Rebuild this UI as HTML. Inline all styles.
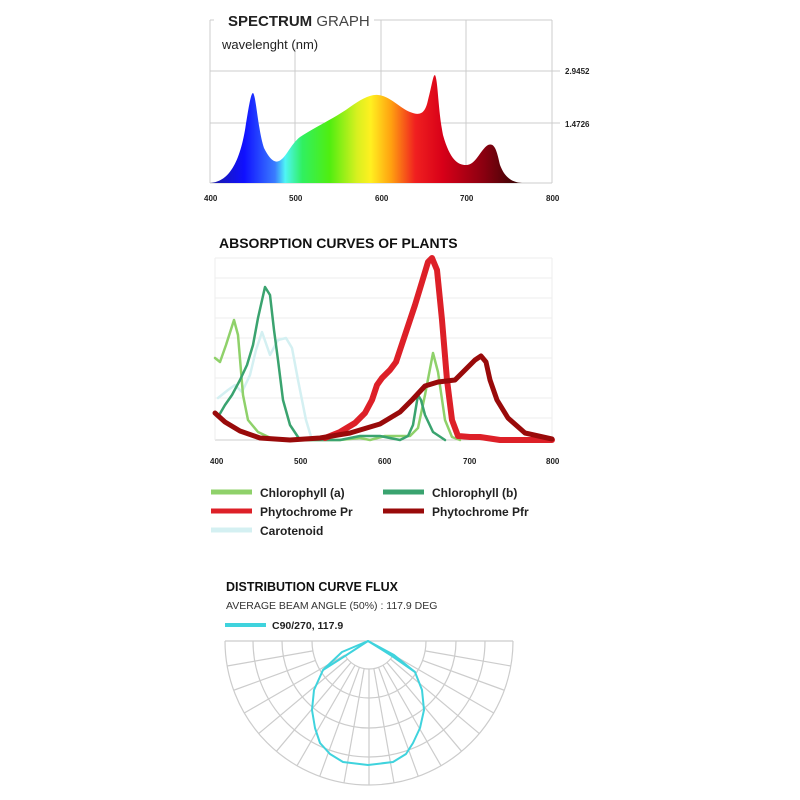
<!DOCTYPE html>
<html><head><meta charset="utf-8"><style>
html,body{margin:0;padding:0;background:#fff;}
svg{display:block;}
text{font-family:"Liberation Sans","DejaVu Sans",sans-serif;}
</style></head><body>
<svg width="800" height="800" viewBox="0 0 800 800" xmlns="http://www.w3.org/2000/svg">
<defs>
<linearGradient id="spec" x1="210" x2="552" y1="0" y2="0" gradientUnits="userSpaceOnUse">
<stop offset="0" stop-color="#1a1aa0"/>
<stop offset="0.1" stop-color="#1010ff"/>
<stop offset="0.19" stop-color="#3a7cff"/>
<stop offset="0.22" stop-color="#4ff5f5"/>
<stop offset="0.27" stop-color="#30f060"/>
<stop offset="0.35" stop-color="#50ee10"/>
<stop offset="0.43" stop-color="#d8f020"/>
<stop offset="0.47" stop-color="#fff020"/>
<stop offset="0.53" stop-color="#ffa010"/>
<stop offset="0.6" stop-color="#f02020"/>
<stop offset="0.68" stop-color="#d80018"/>
<stop offset="0.8" stop-color="#8a0010"/>
<stop offset="0.9" stop-color="#3a0505"/>
<stop offset="1" stop-color="#000"/>
</linearGradient>
</defs>
<g stroke="#ccc" stroke-width="1" fill="none">
<line x1="210" y1="20" x2="552" y2="20"/>
<line x1="210" y1="20" x2="210" y2="183"/>
<line x1="295" y1="32" x2="295" y2="183"/>
<line x1="381" y1="20" x2="381" y2="183"/>
<line x1="466" y1="20" x2="466" y2="183"/>
<line x1="552" y1="20" x2="552" y2="183"/>
<line x1="210" y1="71" x2="560" y2="71"/>
<line x1="210" y1="123" x2="560" y2="123"/>
<line x1="210" y1="183" x2="552" y2="183"/>
</g>
<rect x="214" y="8" width="160" height="40" fill="#fff"/>
<path d="M210,183 C225,182 238,170 245,130 C249,105 251,93 253,93 C256,95 258,130 264,148 C270,160 275,163 279,161 C286,158 290,145 300,137 C315,127 335,118 350,107 C360,100 370,94 378,95 C390,96 400,108 410,112 C420,116 425,114 428,100 C432,85 433,75 435,75 C438,80 438,110 443,135 C450,160 458,165 466,165 C476,165 480,150 488,145 C495,142 497,152 500,165 C505,178 512,182 522,183 Z" fill="url(#spec)"/>
<text x="228" y="26" font-size="15" font-weight="bold" fill="#222">SPECTRUM <tspan font-weight="normal" fill="#444">GRAPH</tspan></text>
<text x="222" y="49" font-size="13" fill="#222">wavelenght (nm)</text>
<g font-size="8" fill="#222" font-weight="bold">
<text x="565" y="74">2.9452</text><text x="565" y="127">1.4726</text>
<text x="204" y="201">400</text><text x="289" y="201">500</text><text x="375" y="201">600</text><text x="460" y="201">700</text><text x="546" y="201">800</text>
</g>
<text x="219" y="248" font-size="14" font-weight="bold" fill="#111">ABSORPTION CURVES OF PLANTS</text>
<g stroke="#eee" stroke-width="1">
<line x1="215" y1="258" x2="552" y2="258"/><line x1="215" y1="278" x2="552" y2="278"/><line x1="215" y1="298" x2="552" y2="298"/><line x1="215" y1="318" x2="552" y2="318"/><line x1="215" y1="338" x2="552" y2="338"/><line x1="215" y1="358" x2="552" y2="358"/><line x1="215" y1="378" x2="552" y2="378"/><line x1="215" y1="398" x2="552" y2="398"/><line x1="215" y1="418" x2="552" y2="418"/>
<line x1="552" y1="258" x2="552" y2="440"/>
</g>
<line x1="215" y1="440" x2="552" y2="440" stroke="#ccc"/>
<line x1="215" y1="258" x2="215" y2="440" stroke="#eee"/>
<g fill="none" stroke-linejoin="round" stroke-linecap="round">
<polyline stroke="#d4f0f2" stroke-width="2.5" points="218,398 228,390 235,385 242,392 250,375 256,350 262,332 270,355 278,340 286,338 292,348 298,380 306,420 312,440"/>
<polyline stroke="#8fd16a" stroke-width="2.5" points="215,358 220,362 226,345 234,320 238,335 243,395 248,420 258,432 275,440 300,440 340,440 360,438 370,440 385,436 410,436 418,428 425,395 433,353 438,372 445,420 452,437 460,440"/>
<polyline stroke="#3aa36f" stroke-width="2.5" points="218,417 225,405 232,395 240,380 247,365 253,345 258,318 265,287 270,295 274,330 278,360 283,400 290,425 300,440 340,440 360,436 380,436 400,440 408,436 413,425 418,395 421,400 425,415 433,432 445,440"/>
<polyline stroke="#dd2028" stroke-width="6" points="325,438 340,432 355,423 365,413 372,400 377,385 382,378 390,370 396,362 405,335 415,305 422,282 428,262 432,258 437,270 442,320 447,380 452,420 458,436 470,437 480,437 500,440 552,440"/>
<polyline stroke="#990a0a" stroke-width="5" points="215,413 225,422 240,431 260,438 290,440 320,438 350,433 380,424 400,412 412,400 425,386 438,382 455,380 465,370 475,360 481,356 486,362 490,380 497,400 508,418 525,433 552,439"/>
</g>
<g font-size="8" fill="#222" font-weight="bold">
<text x="210" y="464">400</text><text x="294" y="464">500</text><text x="378" y="464">600</text><text x="463" y="464">700</text><text x="546" y="464">800</text>
</g>
<g stroke-width="5">
<line x1="211" y1="492" x2="252" y2="492" stroke="#8fd16a"/>
<line x1="383" y1="492" x2="424" y2="492" stroke="#3aa36f"/>
<line x1="211" y1="511" x2="252" y2="511" stroke="#dd2028"/>
<line x1="383" y1="511" x2="424" y2="511" stroke="#990a0a"/>
<line x1="211" y1="530" x2="252" y2="530" stroke="#d4f0f2"/>
</g>
<g font-size="12" font-weight="bold" fill="#222">
<text x="260" y="497">Chlorophyll (a)</text><text x="432" y="497">Chlorophyll (b)</text>
<text x="260" y="516">Phytochrome Pr</text><text x="432" y="516">Phytochrome Pfr</text>
<text x="260" y="535">Carotenoid</text>
</g>
<text x="226" y="591" font-size="12.5" font-weight="bold" fill="#111">DISTRIBUTION CURVE FLUX</text>
<text x="226" y="609" font-size="10.5" fill="#333">AVERAGE BEAM ANGLE  (50%) : 117.9 DEG</text>
<line x1="225" y1="625" x2="266" y2="625" stroke="#3fd3dd" stroke-width="4"/>
<text x="272" y="629" font-size="10.5" font-weight="bold" fill="#222">C90/270, 117.9</text>
<g stroke="#ccc" stroke-width="1.2" fill="none" id="polar"></g>
<g fill="none" stroke="#3fd3dd" stroke-width="2" stroke-linejoin="round">
<polygon points="368,641 345,656 323,670 314,690 312,710 315,728 320,743 330,754 343,762 368,765 393,762 406,754 413,743 420,728 424,710 422,690 415,672 392,656"/>
<polyline points="323,670 342,652 368,641 394,655 415,672"/>
</g>
</svg>
<script>
(function(){
var g=document.getElementById('polar'),cx=369,cy=641,rs=[57,87,116,144],h='';
rs.forEach(function(r){h+='<path d="M'+(cx-r)+','+cy+' A'+r+','+r+' 0 0 0 '+(cx+r)+','+cy+'"/>';});
var ri=28,a0=30*Math.PI/180;
h+='<path d="M'+(cx-ri*Math.cos(a0))+','+(cy+ri*Math.sin(a0))+' A'+ri+','+ri+' 0 0 0 '+(cx+ri*Math.cos(a0))+','+(cy+ri*Math.sin(a0))+'"/>';
for(var a=10;a<180;a+=10){var t=a*Math.PI/180,c=Math.cos(t),s=Math.sin(t);
var r0=(a>=30&&a<=150)?ri:57;
h+='<line x1="'+(cx+r0*c)+'" y1="'+(cy+r0*s)+'" x2="'+(cx+144*c)+'" y2="'+(cy+144*s)+'"/>';}
h+='<line x1="'+(cx-144)+'" y1="'+cy+'" x2="'+(cx+144)+'" y2="'+cy+'"/>';
g.innerHTML=h;
})();
</script>
</body></html>
